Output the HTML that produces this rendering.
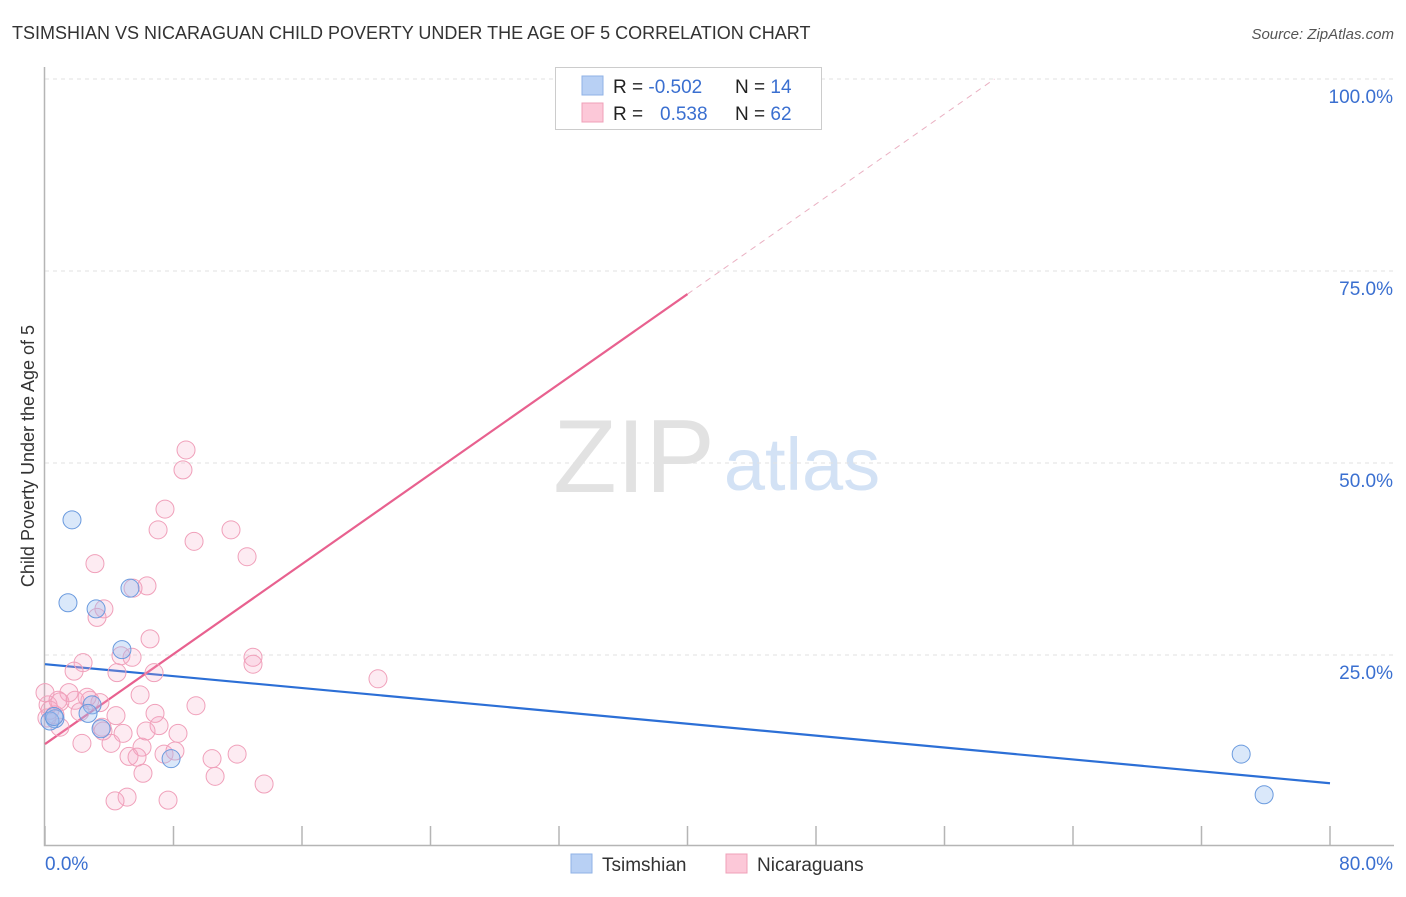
<!DOCTYPE html>
<html><head><meta charset="utf-8"><style>
body{margin:0;background:#fff;font-family:"Liberation Sans",sans-serif;}
svg text{font-family:"Liberation Sans",sans-serif;}
</style></head><body>
<svg id="chart" width="1406" height="892">
<text x="12" y="39" font-size="18" fill="#333">TSIMSHIAN VS NICARAGUAN CHILD POVERTY UNDER THE AGE OF 5 CORRELATION CHART</text>
<text x="1394" y="39" font-size="15" fill="#555" font-style="italic" text-anchor="end">Source: ZipAtlas.com</text>
<text x="634" y="492" font-size="104" fill="#e2e2e2" font-family="Liberation Serif" text-anchor="middle">ZIP</text>
<text x="802" y="490" font-size="74" fill="#d3e2f5" text-anchor="middle">atlas</text>
<g id="grid"></g>
<g id="axes"></g>
<g id="lines"></g>
<g id="points"></g>
<text transform="translate(34,456) rotate(-90)" font-size="18" fill="#333" text-anchor="middle">Child Poverty Under the Age of 5</text>
<g>
<rect x="555.5" y="67.5" width="266" height="62" fill="#fff" stroke="#ccc"/>
<rect x="582" y="76" width="21" height="19" fill="#b8d0f4" stroke="#8fb2e6"/>
<rect x="582" y="103" width="21" height="19" fill="#fcc8d8" stroke="#efa0b8"/>
<text x="613" y="93" font-size="19" fill="#222">R = <tspan fill="#3a6fd0">-0.502</tspan></text>
<text x="735" y="93" font-size="19" fill="#222">N = <tspan fill="#3a6fd0">14</tspan></text>
<text x="613" y="120" font-size="19" fill="#222">R = </text>
<text x="660" y="120" font-size="19" fill="#3a6fd0">0.538</text>
<text x="735" y="120" font-size="19" fill="#222">N = <tspan fill="#3a6fd0">62</tspan></text>
</g>
<g>
<rect x="571" y="854" width="21" height="19" fill="#b8d0f4" stroke="#8fb2e6"/>
<text x="602" y="871" font-size="19" fill="#333">Tsimshian</text>
<rect x="726" y="854" width="21" height="19" fill="#fcc8d8" stroke="#efa0b8"/>
<text x="757" y="871" font-size="19" fill="#333">Nicaraguans</text>
</g>
</svg>
<script>
const yTicks=[25,50,75,100];
const yTickLabels=["25.0%","50.0%","75.0%","100.0%"];
const xTicks=[0,8,16,24,32,40,48,56,64,72,80];
const pinkX=[8.78,8.59,7.47,7.04,11.58,9.28,12.58,3.11,6.35,5.48,3.67,3.24,6.54,4.73,5.42,12.95,12.95,2.37,1.81,6.79,4.48,20.73,5.92,9.40,1.49,2.80,3.42,0.81,0.19,0.62,0.93,4.42,7.10,8.28,4.86,2.30,4.11,5.23,6.04,7.41,8.09,5.73,10.40,11.96,6.10,10.59,13.64,5.11,4.36,7.66,33.0,0.0,1.87,0.31,2.62,3.55,3.61,6.29,6.85,0.93,2.18,0.12];
const pinkY=[51.7,49.1,44.0,41.3,41.3,39.8,37.8,36.9,34.0,33.7,31.0,29.9,27.1,24.9,24.7,24.7,23.8,24.0,22.9,22.7,22.7,21.9,19.8,18.4,20.1,19.1,18.8,19.1,18.5,17.2,15.6,17.1,15.8,14.8,14.8,13.5,13.5,11.8,13.0,12.1,12.5,11.7,11.5,12.1,9.6,9.2,8.2,6.5,6.0,6.1,100.1,20.1,19.1,17.8,19.5,15.6,15.1,15.1,17.4,18.9,17.6,16.8];
const blueX=[1.68,1.43,3.18,5.29,4.79,2.93,0.62,0.31,2.68,3.49,7.85,74.47,75.9,0.56];
const blueY=[42.6,31.8,31.0,33.7,25.7,18.5,16.7,16.4,17.4,15.4,11.5,12.1,6.8,17.0];
const blueLine=[23.8,8.3];
const pinkLine=[13.4,1.465];
const X0=45,X1=1330,Y0=847,Y100=79;
const sx=v=>X0+(X1-X0)*v/80;
const sy=v=>Y0-(Y0-Y100)*v/100;
const NS="http://www.w3.org/2000/svg";
function mk(tag,attrs,parent){const e=document.createElementNS(NS,tag);for(const k in attrs)e.setAttribute(k,attrs[k]);parent.appendChild(e);return e;}
const grid=document.getElementById('grid'),axes=document.getElementById('axes'),lines=document.getElementById('lines'),pts=document.getElementById('points');
yTicks.forEach((t,i)=>{
 const l=mk('line',{x1:X0,x2:1394,y1:sy(t),y2:sy(t),stroke:'#e2e2e2','stroke-dasharray':'4,4'},grid);
 
 
 const tx=mk('text',{x:1393,y:sy(t)+24,'font-size':19,fill:'#3a6fd0','text-anchor':'end'},grid);
 tx.textContent=yTickLabels[i];
 
 
});
const ax=mk('path',{d:`M44.5 67 V845.5 H1394`,stroke:'#b5b5b5',fill:'none','stroke-width':1.5},axes);


xTicks.forEach(t=>{
 const l=mk('line',{x1:sx(t),x2:sx(t),y1:826,y2:845,stroke:'#b5b5b5','stroke-width':1.5},axes);
 
 
});
const xl0=mk('text',{x:45,y:870,'font-size':19,fill:'#3a6fd0'},axes);xl0.textContent='0.0%';


const xl1=mk('text',{x:1393,y:870,'font-size':19,fill:'#3a6fd0','text-anchor':'end'},axes);xl1.textContent='80.0%';


pinkX.forEach((x,i)=>{
 const c=mk('circle',{cx:sx(x),cy:sy(pinkY[i]),r:9,fill:'rgba(245,165,195,0.22)',stroke:'#f0a0ba','stroke-width':1},pts);
 
 
});
blueX.forEach((x,i)=>{
 const c=mk('circle',{cx:sx(x),cy:sy(blueY[i]),r:9,fill:'rgba(150,190,240,0.35)',stroke:'#6a9ade','stroke-width':1},pts);
 
 
});
const bl=mk('line',{x1:sx(0),y1:sy(blueLine[0]),x2:sx(80),y2:sy(blueLine[1]),stroke:'#2c6fd6','stroke-width':2.2},lines);


const pf=v=>pinkLine[0]+pinkLine[1]*v;
const pl=mk('line',{x1:sx(0),y1:sy(pf(0)),x2:sx(40),y2:sy(pf(40)),stroke:'#e8618f','stroke-width':2.2},lines);


const xe=(100-pinkLine[0])/pinkLine[1];
const pd=mk('line',{x1:sx(40),y1:sy(pf(40)),x2:sx(xe),y2:sy(100),stroke:'#eab0c2','stroke-width':1,'stroke-dasharray':'6,5'},lines);


</script>
</body></html>
